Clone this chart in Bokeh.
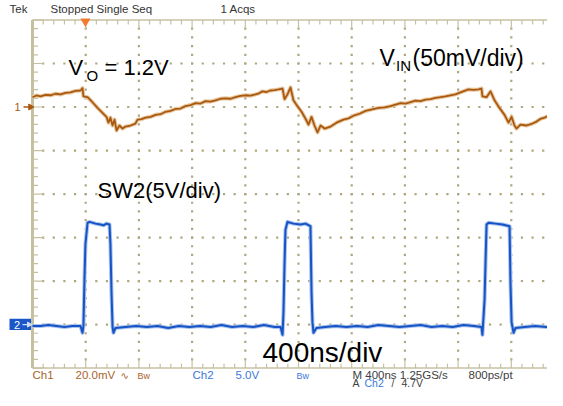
import numpy as np
from bokeh.plotting import figure
from bokeh.models import Range1d
from bokeh.core.properties import value
from bokeh.embed import file_html
from bokeh.resources import INLINE

# ---------------- data (read from the scope capture) ----------------
NS_PER_DIV = 400          # M 400ns
CH1_MV_PER_DIV = 20       # Ch1 20.0mV
CH2_V_PER_DIV = 5         # Ch2 5.0V
CH1_POS_DIV = 2.0         # Ch1 marker position (divisions from centre)
CH2_POS_DIV = -3.0        # Ch2 marker position
TRIG_T_NS = 398
TRIG_LEVEL_V = 4.7

# Ch1: VIN ripple, mV relative to marker
ch1_t_ns = [
    0, 30, 60, 98, 135, 173, 211, 248, 286, 323,
    361, 376, 383, 414, 451, 489, 526, 556, 571, 586,
    602, 617, 632, 654, 677, 699, 737, 774, 790, 820,
    850, 888, 925, 963, 1000, 1038, 1075, 1113, 1150, 1188,
    1226, 1263, 1301, 1338, 1376, 1414, 1451, 1489, 1526, 1564,
    1602, 1639, 1677, 1703, 1729, 1759, 1789, 1820, 1850, 1880,
    1895, 1917, 1940, 1962, 1992, 2023, 2053, 2075, 2098, 2120,
    2143, 2166, 2196, 2241, 2286, 2338, 2376, 2414, 2459, 2504,
    2553, 2602, 2647, 2692, 2730, 2767, 2805, 2842, 2880, 2918,
    2955, 2993, 3030, 3068, 3105, 3143, 3180, 3218, 3248, 3278,
    3316, 3353, 3376, 3383, 3414, 3444, 3474, 3511, 3549, 3579,
    3602, 3624, 3639, 3669, 3714, 3759, 3790, 3820, 3850, 3880,
    3910, 3940, 3993,
]
ch1_mv = [
    4.5, 5.3, 4.9, 5.6, 5.4, 6.1, 5.8, 6.5, 6.7, 7.4,
    7.6, 8.7, 4.9, 4.5, 2.2, -0.4, -2.7, -4.5, -7.2, -4.9,
    -8.5, -5.8, -10.8, -8.5, -9.9, -9.0, -8.5, -7.6, -5.8, -5.6,
    -4.9, -4.5, -3.6, -3.3, -2.2, -1.8, -0.9, -0.7, 0.4, 0.9,
    1.8, 1.6, 2.7, 2.5, 3.1, 3.8, 4.0, 3.8, 4.5, 5.1,
    5.4, 5.2, 5.8, 6.3, 7.2, 6.9, 7.6, 7.8, 8.1, 8.5,
    3.6, 5.8, 9.0, 3.1, 0.4, -2.2, -5.4, -8.1, -4.5, -8.5,
    -11.7, -8.5, -9.9, -9.0, -7.2, -5.8, -5.2, -4.0, -3.1, -1.8,
    -1.1, -0.4, -0.2, 0.4, 1.1, 1.8, 1.6, 2.2, 2.9, 2.7,
    3.4, 3.6, 4.2, 4.5, 4.9, 5.4, 5.8, 6.7, 7.4, 8.1,
    7.9, 8.1, 8.5, 4.9, 4.5, 7.2, 3.1, -0.4, -3.6, -7.2,
    -4.5, -8.5, -9.9, -8.1, -8.5, -7.6, -6.7, -5.4, -4.9, -4.0,
    -3.1, -2.2, -1.8,
]

# Ch2: SW2 node, volts
ch2_t_ns = [
    0, 60, 120, 180, 240, 300, 361, 376, 383, 391,
    398, 414, 429, 474, 511, 534, 556, 579, 586, 594,
    602, 609, 624, 700, 780, 860, 940, 1020, 1100, 1180,
    1260, 1340, 1420, 1500, 1580, 1660, 1740, 1820, 1865, 1880,
    1887, 1895, 1902, 1917, 1962, 2015, 2053, 2090, 2098, 2105,
    2113, 2135, 2200, 2280, 2360, 2440, 2520, 2600, 2680, 2760,
    2840, 2920, 3000, 3080, 3160, 3240, 3320, 3376, 3383, 3399,
    3406, 3414, 3429, 3481, 3534, 3587, 3594, 3602, 3617, 3632,
    3700, 3780, 3860, 3940, 3993,
]
ch2_v = [
    -0.17, -0.17, -0.06, -0.17, -0.28, -0.17, -0.17, -0.95, -0.17, 5.32,
    9.24, 11.7, 11.8, 11.6, 11.5, 11.4, 11.6, 11.5, 9.24, 3.64,
    -0.28, -0.95, -0.39, -0.28, -0.17, -0.28, -0.17, -0.39, -0.17, -0.28,
    -0.17, -0.28, -0.06, -0.28, -0.17, -0.28, -0.06, -0.28, -0.28, -1.18,
    1.40, 7.0, 10.9, 11.8, 11.6, 11.5, 11.6, 11.3, 3.64, 0.28,
    -0.95, -0.39, -0.28, -0.17, -0.28, -0.17, -0.28, -0.06, -0.17, -0.28,
    -0.17, -0.06, -0.28, -0.17, -0.28, -0.06, -0.17, -0.28, -1.18, 2.86,
    7.0, 11.5, 11.7, 11.6, 11.5, 11.3, 4.76, 0.28, -0.95, -0.39,
    -0.28, -0.17, -0.28, -0.17, -0.28,
]

# ---------------- layout ----------------
W, H = 547, 390
REF_H = 400.0              # reference rows shown in the figure height
SY = H / REF_H
PX_DIV_X = 53.2            # px per division, horizontal
REF_PX_DIV_Y = 44.625      # px per division, vertical (reference rows)
REF_X0 = 32.0              # px of t = 0 (left graticule edge)
REF_YC = 198.5             # px of centre line


def X(px):   # reference px -> ns
    return (px - REF_X0) / PX_DIV_X * NS_PER_DIV


def Y(py):   # reference px -> divisions
    return (REF_YC - py) / REF_PX_DIV_Y


x_start, x_end = X(0), X(W)
y_top, y_bot = Y(0), Y(REF_H)

p = figure(width=W, height=H, output_backend="svg", toolbar_location=None,
           x_range=Range1d(x_start, x_end), y_range=Range1d(y_bot, y_top),
           x_axis_location=None, y_axis_location=None, min_border=0,
           outline_line_color=None, background_fill_color="white",
           border_fill_color="white")
p.grid.visible = False
p.extra_y_ranges = {
    "ch1": Range1d((y_bot - CH1_POS_DIV) * CH1_MV_PER_DIV, (y_top - CH1_POS_DIV) * CH1_MV_PER_DIV),
    "ch2": Range1d((y_bot - CH2_POS_DIV) * CH2_V_PER_DIV, (y_top - CH2_POS_DIV) * CH2_V_PER_DIV),
}

FONT = "Liberation Sans"
GRAT = "#c6c0a2"
DOT = "#aea77f"
T_END = 10 * NS_PER_DIV

# ---------------- graticule ----------------
dx, dy = [], []
for k in range(1, 50):
    for j in range(-3, 4):
        dx.append(k * NS_PER_DIV / 5)
        dy.append(j)
for k in range(1, 10):
    for j in range(1, 40):
        dx.append(k * NS_PER_DIV)
        dy.append(-4 + j * 0.2)
p.scatter(dx, dy, marker="square", size=2.2, color=DOT, line_color=None)

p.segment([0, 0, 0, T_END], [-4, 4, -4, -4], [0, T_END, T_END, T_END], [4, 4, -4, 4],
          line_color=GRAT, line_width=[3, 1.5, 1.5, 3])
tx0, ty0, tx1, ty1 = [], [], [], []
for k in range(0, 51):
    L = (9 if k % 5 == 0 else 4.5) / REF_PX_DIV_Y
    t = k * NS_PER_DIV / 5
    tx0 += [t, t]; tx1 += [t, t]
    ty0 += [4, -4]; ty1 += [4 - L, -4 + L]
for k in range(0, 41):
    L = (11 if k % 5 == 0 else 5.5) / PX_DIV_X * NS_PER_DIV
    d = -4 + k * 0.2
    tx0 += [0, T_END]; tx1 += [L, T_END - L]
    ty0 += [d, d]; ty1 += [d, d]
p.segment(tx0, ty0, tx1, ty1, line_color=GRAT, line_width=1.2)

# ---------------- traces ----------------
C1 = "#a9590f"
C2 = "#1653c4"
p.line(ch1_t_ns, ch1_mv, y_range_name="ch1", line_color="#e8c8a2", line_width=4, line_join="round")
p.line(ch1_t_ns, ch1_mv, y_range_name="ch1", line_color=C1, line_width=1.8, line_join="round")
p.line(ch2_t_ns, ch2_v, y_range_name="ch2", line_color="#a9c2ee", line_width=4, line_join="round")
p.line(ch2_t_ns, ch2_v, y_range_name="ch2", line_color=C2, line_width=2, line_join="round")

# ---------------- markers ----------------
p.segment([X(23)], [CH1_POS_DIV], [X(30)], [CH1_POS_DIV], line_color=C1, line_width=1.5)
p.scatter([X(30)], [CH1_POS_DIV], marker="triangle", angle=-np.pi / 2, size=6, color=C1)
p.quad(left=[X(9)], right=[X(30.5)], top=[Y(326.5)], bottom=[Y(338)], fill_color="#1b57c9", line_color=None)
p.segment([X(22)], [CH2_POS_DIV], [X(28)], [CH2_POS_DIV], line_color="#cfe0ff", line_width=1.2)
p.scatter([X(28.5)], [CH2_POS_DIV], marker="triangle", angle=-np.pi / 2, size=5, color="#cfe0ff")
trig_div = CH2_POS_DIV + TRIG_LEVEL_V / CH2_V_PER_DIV
p.segment([X(553)], [trig_div], [X(563)], [trig_div], line_color="#2f6ad6", line_width=1.5)
p.scatter([X(553)], [trig_div], marker="triangle", angle=np.pi / 2, size=6, color="#2f6ad6")
p.scatter([TRIG_T_NS], [Y(21.5)], marker="inverted_triangle", size=10, color="#f27a2a", line_color=None)

BASE_K = 0.36   # svg text sits this fraction of its size below the given baseline


def label(txt, px, py, size, color, font=FONT):
    py_adj = py - BASE_K * size / SY
    p.text(x=[X(px)], y=[Y(py_adj)], text=[txt], text_font=value(font),
           text_font_size=f"{size}px", text_color=color, text_align="left",
           text_baseline="alphabetic")


TOPC = "#333333"
label("Tek", 9, 12.5, 11.5, TOPC)
label("Stopped  Single Seq", 50, 12.5, 11.5, TOPC)
label("1 Acqs", 220, 12.5, 11.5, TOPC)

label("1", 14, 113, 11, C1)
label("2", 13.5, 336.5, 11, "white")

label("V", 68, 77, 22, "black")
label("O", 86, 82, 15, "black")
label("= 1.2V", 104, 77, 22, "black")
label("V", 379, 67, 23, "black")
label("IN", 395.5, 72, 15, "black")
label("(50mV/div)", 412, 67, 23, "black")
label("SW2(5V/div)", 97, 203, 22, "black")
label("400ns/div", 262, 371, 28, "black")

B1 = "#a8642c"
B2 = "#3c78d8"
BK = "#404040"
L1, L2 = 388.0, 396.5
label("Ch1", 32, L1, 11.5, B1)
label("20.0mV", 75, L1, 11.5, B1)
label("\u223f", 120, L1, 10, B1, font="DejaVu Sans")
label("Bw", 137, L1, 9, B1)
label("Ch2", 192, L1, 11.5, B2)
label("5.0V", 235, L1, 11.5, B2)
label("Bw", 296, L1, 9, B2)
label("M 400ns 1.25GS/s", 352, L1, 11.5, BK)
label("800ps/pt", 468, L1, 11.5, BK)
label("A", 352, L2, 10.5, BK)
label("Ch2", 364, L2, 10.5, B2)
label("/", 391, L2, 10, BK)
label("4.7V", 401, L2, 10.5, BK)

open("out.html", "w").write(file_html(p, INLINE))
